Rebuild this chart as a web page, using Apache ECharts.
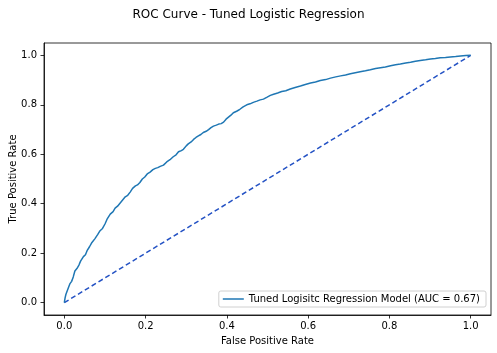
<!DOCTYPE html>
<html>
<head>
<meta charset="utf-8">
<script src="https://cdn.jsdelivr.net/npm/echarts@6/dist/echarts.min.js"></script>
<style>
  html, body { margin: 0; padding: 0; background: #fff; }
  #chart { width: 497px; height: 353px; }
</style>
</head>
<body>
<div id="chart"></div>
<script>
// ROC points
const fprValues = [0.000, 0.002, 0.004, 0.006, 0.010, 0.014, 0.018, 0.022, 0.026, 0.031, 0.036, 0.040, 0.047, 0.052, 0.056, 0.062, 0.067, 0.075, 0.082, 0.088, 0.094, 0.100, 0.106, 0.113, 0.120, 0.125, 0.131, 0.137, 0.144, 0.150, 0.156, 0.162, 0.168, 0.175, 0.180, 0.186, 0.192, 0.198, 0.205, 0.211, 0.218, 0.224, 0.230, 0.236, 0.244, 0.252, 0.260, 0.268, 0.275, 0.281, 0.288, 0.293, 0.300, 0.305, 0.312, 0.318, 0.324, 0.330, 0.336, 0.342, 0.349, 0.355, 0.361, 0.367, 0.374, 0.380, 0.386, 0.392, 0.398, 0.404, 0.410, 0.416, 0.424, 0.432, 0.440, 0.449, 0.457, 0.465, 0.474, 0.482, 0.490, 0.498, 0.507, 0.515, 0.525, 0.535, 0.545, 0.556, 0.568, 0.581, 0.593, 0.606, 0.618, 0.630, 0.643, 0.655, 0.668, 0.680, 0.692, 0.704, 0.716, 0.728, 0.741, 0.753, 0.766, 0.778, 0.790, 0.803, 0.815, 0.827, 0.840, 0.852, 0.864, 0.876, 0.889, 0.901, 0.913, 0.925, 0.938, 0.950, 0.963, 0.975, 0.988, 1.000];
const tprValues = [0.000, 0.020, 0.034, 0.042, 0.060, 0.077, 0.086, 0.104, 0.128, 0.138, 0.152, 0.168, 0.186, 0.194, 0.210, 0.226, 0.241, 0.258, 0.275, 0.291, 0.300, 0.318, 0.340, 0.358, 0.368, 0.382, 0.390, 0.402, 0.416, 0.428, 0.434, 0.447, 0.462, 0.472, 0.476, 0.486, 0.500, 0.508, 0.522, 0.528, 0.538, 0.543, 0.546, 0.551, 0.556, 0.569, 0.578, 0.590, 0.598, 0.610, 0.615, 0.620, 0.634, 0.642, 0.650, 0.660, 0.668, 0.674, 0.680, 0.688, 0.693, 0.700, 0.708, 0.714, 0.718, 0.722, 0.724, 0.730, 0.742, 0.750, 0.758, 0.768, 0.774, 0.782, 0.792, 0.800, 0.804, 0.810, 0.815, 0.820, 0.823, 0.830, 0.838, 0.843, 0.848, 0.854, 0.857, 0.864, 0.870, 0.876, 0.882, 0.888, 0.892, 0.898, 0.902, 0.908, 0.913, 0.917, 0.921, 0.926, 0.930, 0.934, 0.938, 0.942, 0.947, 0.950, 0.953, 0.958, 0.962, 0.965, 0.969, 0.972, 0.976, 0.979, 0.982, 0.985, 0.987, 0.990, 0.991, 0.993, 0.995, 0.997, 0.999, 1.000];
const chanceX = [0, 1];
const chanceY = [0, 1];
const tickValues = [0, 0.2, 0.4, 0.6, 0.8, 1.0];

const modelName = "Tuned Logisitc Regression Model (AUC = 0.67)";

const chart = echarts.init(document.getElementById("chart"));

const fontFamily = "DejaVu Sans";
const tickFont = { color: "#000", fontSize: 10, fontFamily };

const axisCommon = {
  type: "value",
  min: -0.05,
  max: 1.05,
  nameLocation: "middle",
  nameMoveOverlap: false,
  nameTextStyle: { color: "#000", fontSize: 10, fontFamily },
  axisLine: { show: true, onZero: false, lineStyle: { color: "#000", width: 0.8 } },
  axisTick: {
    show: true,
    inside: false,
    length: 3.5,
    customValues: tickValues,
    lineStyle: { color: "#000", width: 0.8 },
  },
  axisLabel: {
    ...tickFont,
    customValues: tickValues,
    formatter: (v) => v.toFixed(1),
  },
  splitLine: { show: false },
};

const option = {
  backgroundColor: "#fff",
  animation: false,
  title: {
    text: "ROC Curve - Tuned Logistic Regression",
    left: "center",
    top: 4,
    textStyle: { color: "#000", fontSize: 12, fontWeight: "normal", fontFamily },
  },
  grid: {
    left: 44,
    top: 43,
    right: 6,
    bottom: 38,
    outerBoundsMode: "none",
    show: true,
    borderColor: "#000",
    borderWidth: 0.8,
  },
  xAxis: {
    ...axisCommon,
    name: "False Positive Rate",
    nameGap: 21,
    axisLabel: { ...axisCommon.axisLabel, margin: 6 },
  },
  yAxis: {
    ...axisCommon,
    name: "True Positive Rate",
    nameGap: 26,
    axisLabel: { ...axisCommon.axisLabel, margin: 7 },
  },
  legend: {
    data: [{ name: modelName, icon: "rect" }],
    right: 11,
    bottom: 46,
    orient: "vertical",
    backgroundColor: "#fff",
    borderColor: "#d0d0d0",
    borderWidth: 1,
    borderRadius: 2,
    padding: [3, 6, 3, 4],
    itemWidth: 21,
    itemHeight: 1.5,
    itemGap: 0,
    textStyle: { color: "#000", fontSize: 10, fontFamily },
  },
  series: [
    {
      name: modelName,
      type: "line",
      data: fprValues.map((x, i) => [x, tprValues[i]]),
      symbol: "none",
      lineStyle: { color: "#1f77b4", width: 1.5 },
      itemStyle: { color: "#1f77b4" },
    },
    {
      name: "chance",
      type: "line",
      data: chanceX.map((x, i) => [x, chanceY[i]]),
      symbol: "none",
      lineStyle: { color: "#2452c4", width: 1.5, type: [5, 3] },
      z: 1,
    },
  ],
};

chart.setOption(option);
</script>
</body>
</html>
